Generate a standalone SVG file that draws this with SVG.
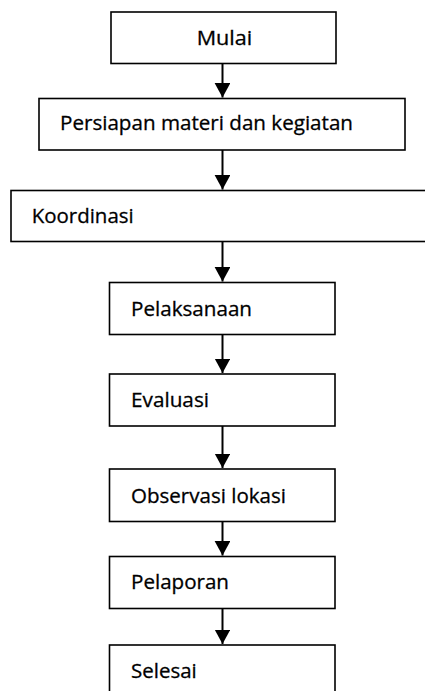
<svg xmlns="http://www.w3.org/2000/svg" width="425" height="691" viewBox="0 0 425 691">
<style>
.box{fill:#fff;stroke:#000;stroke-width:1.6}
.lbl{font-family:"Open Sans","Noto Sans","Liberation Sans",sans-serif;font-size:20.5px;fill:#000;stroke:#000;stroke-width:0.3}
.edge{stroke:#000;stroke-width:2;fill:none}
</style>
<defs>
<marker id="ah" markerUnits="userSpaceOnUse" markerWidth="15" markerHeight="16" refX="14.5" refY="7.9" orient="auto">
<path d="M0,0 L14.5,7.9 L0,15.8 Z" fill="#000"/>
</marker>
</defs>
<rect width="425" height="691" fill="#fff"/>
<g id="n-mulai"><rect class="box" x="111" y="12" width="225" height="51.5"/><text class="lbl" x="196.7" y="45" textLength="55.6" lengthAdjust="spacingAndGlyphs">Mulai</text></g>
<g id="n-persiapan"><rect class="box" x="39" y="98.5" width="366" height="51.5"/><text class="lbl" x="60" y="130" textLength="293" lengthAdjust="spacingAndGlyphs">Persiapan materi dan kegiatan</text></g>
<g id="n-koordinasi"><rect class="box" x="11" y="190.5" width="430" height="51"/><text class="lbl" x="31.7" y="223.3" textLength="102" lengthAdjust="spacingAndGlyphs">Koordinasi</text></g>
<g id="n-pelaksanaan"><rect class="box" x="109.5" y="282.5" width="225.5" height="52"/><text class="lbl" x="131" y="316" textLength="121" lengthAdjust="spacingAndGlyphs">Pelaksanaan</text></g>
<g id="n-evaluasi"><rect class="box" x="109.5" y="374" width="225.5" height="52"/><text class="lbl" x="131" y="406.7" textLength="78" lengthAdjust="spacingAndGlyphs">Evaluasi</text></g>
<g id="n-observasi"><rect class="box" x="109.5" y="469" width="225.5" height="52.5"/><text class="lbl" x="131" y="503.3" textLength="155" lengthAdjust="spacingAndGlyphs">Observasi lokasi</text></g>
<g id="n-pelaporan"><rect class="box" x="109.5" y="556.5" width="225.5" height="52"/><text class="lbl" x="131" y="589.3" textLength="98" lengthAdjust="spacingAndGlyphs">Pelaporan</text></g>
<g id="n-selesai"><rect class="box" x="109.5" y="645" width="225.5" height="52"/><text class="lbl" x="131" y="678.3" textLength="65.7" lengthAdjust="spacingAndGlyphs">Selesai</text></g>
<g id="connectors">
<line class="edge" x1="222.5" y1="63.5" x2="222.5" y2="97.5" marker-end="url(#ah)"/>
<line class="edge" x1="222.5" y1="150" x2="222.5" y2="189.5" marker-end="url(#ah)"/>
<line class="edge" x1="222.5" y1="241.5" x2="222.5" y2="281.5" marker-end="url(#ah)"/>
<line class="edge" x1="222.5" y1="334.5" x2="222.5" y2="373" marker-end="url(#ah)"/>
<line class="edge" x1="222.5" y1="426" x2="222.5" y2="468" marker-end="url(#ah)"/>
<line class="edge" x1="222.5" y1="521.5" x2="222.5" y2="555.5" marker-end="url(#ah)"/>
<line class="edge" x1="222.5" y1="608.5" x2="222.5" y2="644" marker-end="url(#ah)"/>
</g>
</svg>
